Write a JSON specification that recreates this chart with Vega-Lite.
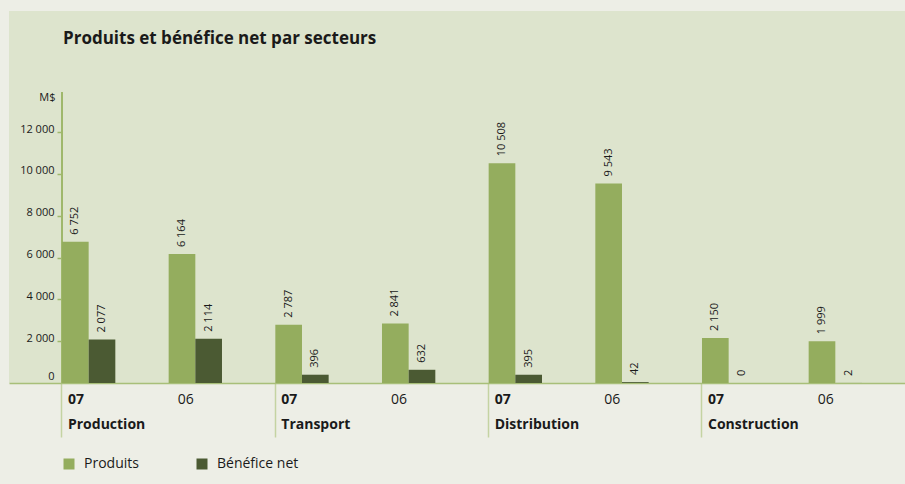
{
  "$schema": "https://vega.github.io/schema/vega-lite/v6.json",
  "width": 896,
  "height": 372,
  "autosize": {"type": "none"},
  "padding": {"left": 9, "top": 11, "right": 0, "bottom": 101},
  "background": "#edeee6",
  "title": {
    "text": "Produits et bénéfice net par secteurs",
    "anchor": "start",
    "frame": "group",
    "orient": "top",
    "offset": 0,
    "dx": 54,
    "dy": 54,
    "baseline": "bottom",
    "font": "Open Sans",
    "fontSize": 17,
    "fontWeight": "bold",
    "color": "#1a1a1a"
  },
  "config": {
    "view": {"stroke": null, "fill": "#dde4cd"},
    "locale": {"number": {"decimal": ",", "thousands": " ", "grouping": [3], "currency": ["", " $"]}},
    "font": "Open Sans"
  },
  "data": {
    "values": [
      {"grp": "Production|07", "serie": "Produits", "value": 6752},
      {"grp": "Production|07", "serie": "Bénéfice net", "value": 2077},
      {"grp": "Production|06", "serie": "Produits", "value": 6164},
      {"grp": "Production|06", "serie": "Bénéfice net", "value": 2114},
      {"grp": "Transport|07", "serie": "Produits", "value": 2787},
      {"grp": "Transport|07", "serie": "Bénéfice net", "value": 396},
      {"grp": "Transport|06", "serie": "Produits", "value": 2841},
      {"grp": "Transport|06", "serie": "Bénéfice net", "value": 632},
      {"grp": "Distribution|07", "serie": "Produits", "value": 10508},
      {"grp": "Distribution|07", "serie": "Bénéfice net", "value": 395},
      {"grp": "Distribution|06", "serie": "Produits", "value": 9543},
      {"grp": "Distribution|06", "serie": "Bénéfice net", "value": 42},
      {"grp": "Construction|07", "serie": "Produits", "value": 2150},
      {"grp": "Construction|07", "serie": "Bénéfice net", "value": 0},
      {"grp": "Construction|06", "serie": "Produits", "value": 1999},
      {"grp": "Construction|06", "serie": "Bénéfice net", "value": 2}
    ]
  },
  "encoding": {
    "x": {
      "field": "grp",
      "type": "nominal",
      "scale": {
        "domain": ["Production|07", "Production|06", "Transport|07", "Transport|06", "Distribution|07", "Distribution|06", "Construction|07", "Construction|06"],
        "paddingInner": 0.5,
        "paddingOuter": 0.45,
        "align": 0.552
      },
      "axis": {
        "title": null,
        "bandPosition": 0,
        "labelAngle": 0,
        "domainColor": "#a8bf79",
        "domainWidth": 1.5,
        "tickColor": "#c4d3a2",
        "tickWidth": 1.5,
        "tickSize": 54,
        "tickOpacity": {"condition": {"test": "indexof(datum.value, '|07') > 0", "value": 1}, "value": 0},
        "labelAlign": "left",
        "labelBaseline": "top",
        "labelPadding": -45,
        "labelOffset": {"condition": {"test": "indexof(datum.value, '|07') > 0", "value": -20.7}, "value": -17.7},
        "labelFontWeight": {"condition": {"test": "indexof(datum.value, '|07') > 0", "value": "bold"}, "value": "normal"},
        "labelExpr": "indexof(datum.value, '|07') > 0 ? [split(datum.value, '|')[1], split(datum.value, '|')[0]] : split(datum.value, '|')[1]",
        "labelFont": "Open Sans",
        "labelFontSize": 14,
        "labelLineHeight": 25,
        "labelColor": "#1a1a1a",
        "labelOverlap": false
      }
    }
  },
  "layer": [
    {
      "mark": {"type": "rule", "color": "#9fb86c", "strokeWidth": 1.5},
      "encoding": {
        "x": {"datum": "Production|07", "type": "nominal", "bandPosition": 0},
        "y": {"datum": 0, "type": "quantitative"},
        "y2": {"datum": 13900}
      }
    },
    {
      "mark": {"type": "bar"},
      "encoding": {
        "xOffset": {"field": "serie", "type": "nominal", "scale": {"domain": ["Produits", "Bénéfice net"], "paddingInner": 0, "paddingOuter": 0}},
        "y": {
          "field": "value",
          "type": "quantitative",
          "scale": {"domain": [0, 17785], "nice": false},
          "axis": {
            "title": "M$",
            "titleAngle": 0,
            "titleX": -7,
            "titleY": 86,
            "titleAlign": "right",
            "titleBaseline": "middle",
            "titleFont": "Open Sans",
            "titleFontSize": 11,
            "titleFontWeight": "normal",
            "titleColor": "#1a1a1a",
            "offset": -53,
            "domain": false,
            "grid": false,
            "values": [0, 2000, 4000, 6000, 8000, 10000, 12000],
            "labelExpr": "format(datum.value, ',')",
            "tickColor": "#9fb86c",
            "tickSize": 5,
            "tickWidth": 1.5,
            "tickOpacity": {"condition": {"test": "datum.value === 0", "value": 0}, "value": 1},
            "labelPadding": 3,
            "labelBaseline": "alphabetic",
            "labelOffset": {"condition": {"test": "datum.value === 0", "value": -4}, "value": 0},
            "labelFont": "Open Sans",
            "labelFontSize": 11,
            "labelColor": "#1a1a1a"
          }
        },
        "color": {
          "field": "serie",
          "type": "nominal",
          "scale": {"domain": ["Produits", "Bénéfice net"], "range": ["#94ad5e", "#4b5a33"]},
          "legend": {
            "title": null,
            "orient": "none",
            "legendX": 53,
            "legendY": 446,
            "direction": "horizontal",
            "symbolType": "square",
            "symbolSize": 121,
            "symbolStrokeWidth": 0,
            "symbolOpacity": 1,
            "labelFont": "Open Sans",
            "labelFontSize": 14,
            "labelColor": "#1a1a1a",
            "labelOffset": 8,
            "columnPadding": 56
          }
        }
      }
    },
    {
      "mark": {"type": "text", "angle": 270, "align": "left", "baseline": "middle", "dx": 7, "fontSize": 11, "font": "Open Sans", "color": "#1a1a1a"},
      "encoding": {
        "xOffset": {"field": "serie", "type": "nominal", "scale": {"domain": ["Produits", "Bénéfice net"], "paddingInner": 0, "paddingOuter": 0}},
        "y": {"field": "value", "type": "quantitative"},
        "text": {"field": "value", "type": "quantitative", "format": ","}
      }
    }
  ]
}
